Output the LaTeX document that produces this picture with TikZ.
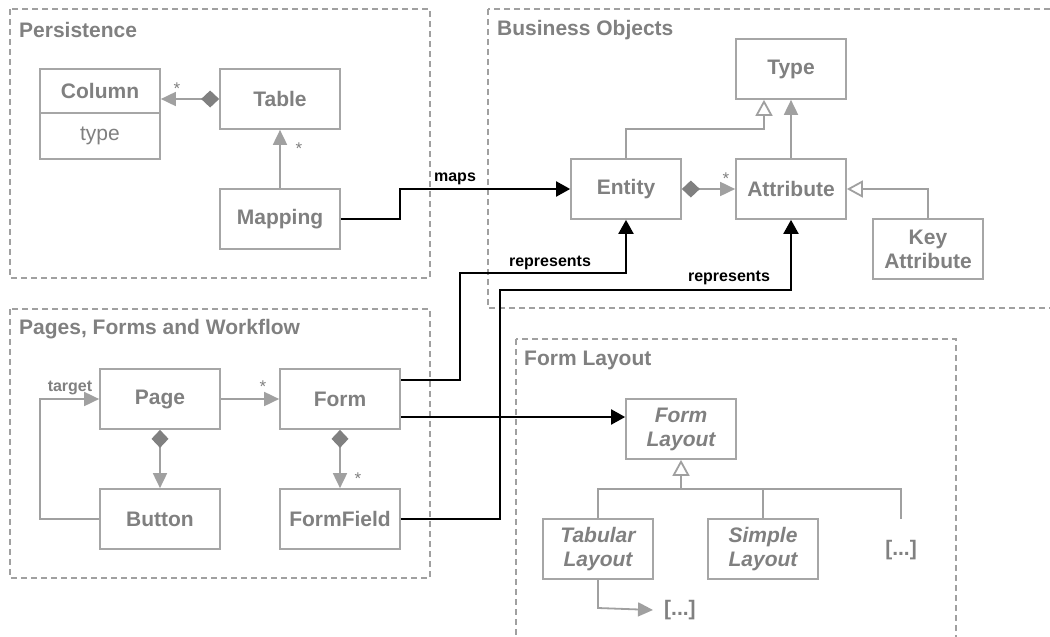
\documentclass[tikz,border=0pt]{standalone}
\usepackage{fontspec}
\setmainfont{Liberation Sans}
\usetikzlibrary{arrows.meta,calc}
\definecolor{txtgray}{HTML}{808080}
\definecolor{boxgray}{HTML}{A6A6A6}
\definecolor{lngray}{HTML}{A0A0A0}
\definecolor{diagray}{HTML}{808080}
\begin{document}
\begin{tikzpicture}[x=1pt,y=-1pt,
  cls/.style={draw=boxgray,line width=1.7pt,fill=white,text=txtgray,
    font=\bfseries\fontsize{21}{24}\selectfont,minimum width=#1,
    minimum height=60pt,inner sep=0pt,align=center},
  cls/.default=120pt,
  grp/.style={draw=lngray,line width=1.5pt,dash pattern=on 6pt off 4pt},
  grptitle/.style={anchor=west,text=txtgray,font=\bfseries\fontsize{21}{24}\selectfont,inner sep=0pt},
  assoc/.style={draw=lngray,line width=1.8pt,-{Triangle[length=15pt,width=14pt]}},
  compo/.style={draw=lngray,line width=1.8pt,{Diamond[length=18pt,width=17pt,color=diagray,fill=diagray]}-{Triangle[length=15pt,width=14pt]}},
  genl/.style={draw=lngray,line width=1.8pt,-{Triangle[open,length=16pt,width=17pt,fill=white]}},
  plain/.style={draw=lngray,line width=1.8pt},
  dep/.style={draw=black,line width=2pt,-{Triangle[length=14pt,width=15pt]}},
  mult/.style={text=txtgray,font=\fontsize{17}{17}\selectfont,inner sep=0pt},
  glab/.style={text=txtgray,font=\bfseries\fontsize{16}{16}\selectfont,inner sep=0pt},
  blab/.style={text=black,font=\bfseries\fontsize{16}{16}\selectfont,inner sep=0pt},
  dots/.style={text=txtgray,font=\bfseries\fontsize{21}{24}\selectfont,inner sep=1pt}
]
\useasboundingbox (0,0) rectangle (1050,637);
\clip (0,0) rectangle (1050,637);

% group boxes
\draw[grp] (10,9) rectangle (430,278);
\draw[grp] (488,9) rectangle (1070,308);
\draw[grp] (10,309) rectangle (430,578);
\draw[grp] (516,339) rectangle (956,660);
\node[grptitle] (tpers) at (19,30) {Persistence};
\node[grptitle] (tbus) at (497,30) {Business Objects};
\node[grptitle] (tpages) at (19,329) {Pages, Forms and Workflow};
\node[grptitle] (tfl) at (524,360) {Form Layout};

% Persistence
\node[cls,minimum height=90pt] (column) at (100,114) {};
\node[text=txtgray,font=\bfseries\fontsize{21}{24}\selectfont] (columnname) at (100,91) {Column};
\node[text=txtgray,font=\fontsize{21}{24}\selectfont] (columntype) at (100,136) {type};
\draw[draw=boxgray,line width=1.7pt] (column.west |- 0,113) -- (column.east |- 0,113);
\node[cls] (table) at (280,99) {Table};
\node[cls] (mapping) at (280,219) {Mapping};

% Business objects
\node[cls=110pt] (type) at (791,69) {Type};
\node[cls=110pt] (entity) at (626,189) {Entity};
\node[cls=110pt] (attribute) at (791,189) {Attribute};
\node[cls=110pt] (keyattr) at (928,249) {Key\\Attribute};

% Pages
\node[cls] (page) at (160,399) {Page};
\node[cls] (form) at (340,399) {Form};
\node[cls] (button) at (160,519) {Button};
\node[cls] (formfield) at (340,519) {FormField};

% Form layout
\node[cls=110pt] (formlayout) at (681,429) {\itshape Form\\\itshape Layout};
\node[cls=110pt] (tabular) at (598,549) {\itshape Tabular\\\itshape Layout};
\node[cls=110pt] (simple) at (763,549) {\itshape Simple\\\itshape Layout};
\node[dots] (dotsa) at (901,550) {[...]};
\node[dots,anchor=west] (dotsb) at (663,610) {[...]};

% gray connectors
\draw[compo] (table.west) -- (table.west -| column.east);
\node[mult] (m1) at (177,89) {*};
\draw[assoc] (mapping.north) -- (table.south);
\node[mult] (m2) at (299,149) {*};
\coordinate (ej) at (764,129);
\draw[genl] (entity.north) |- (ej) -- (ej |- type.south);
\draw[assoc] (attribute.north) -- (type.south);
\draw[compo] (entity.east) -- (attribute.west);
\node[mult] (m3) at (726,179) {*};
\draw[genl] (keyattr.north) |- (attribute.east);

\draw[assoc] (page.east) -- (form.west);
\node[mult] (m4) at (263,387) {*};
\draw[compo] (page.south) -- (button.north);
\draw[compo] (form.south) -- (formfield.north);
\node[mult] (m5) at (358,479) {*};
\coordinate (bl) at (40,519);
\draw[assoc] (button.west) -- (bl) |- (page.west);
\node[glab] (ltarget) at (70,388) {target};

\coordinate (gj) at (681,489);
\coordinate (dj) at (901,519);
\draw[genl] (gj) -- (formlayout.south);
\draw[plain] (tabular.north) |- (dj |- gj) -- (dj);
\draw[plain] (simple.north) -- (simple.north |- gj);
\coordinate (tb) at (598,608);
\draw[assoc] (tabular.south) -- (tb) -- ([xshift=-10pt]dotsb.west);

% black connectors
\coordinate (mj) at (400,189);
\draw[dep] (mapping.east) -| (mj) -- (entity.west);
\node[blab] (lmaps) at (455,179) {maps};
\coordinate (r1) at (460,273);
\draw[dep] ([yshift=19pt]form.east) -| (r1) -- (r1 -| entity.south) -- (entity.south);
\node[blab] (lrep1) at (550,263) {represents};
\coordinate (r2) at (500,290);
\draw[dep] (formfield.east) -| (r2) -- (r2 -| attribute.south) -- (attribute.south);
\node[blab] (lrep2) at (729,278) {represents};
\draw[dep] ([yshift=-18pt]form.east) -- ([yshift=-18pt]form.east -| formlayout.west);
\end{tikzpicture}
\end{document}
